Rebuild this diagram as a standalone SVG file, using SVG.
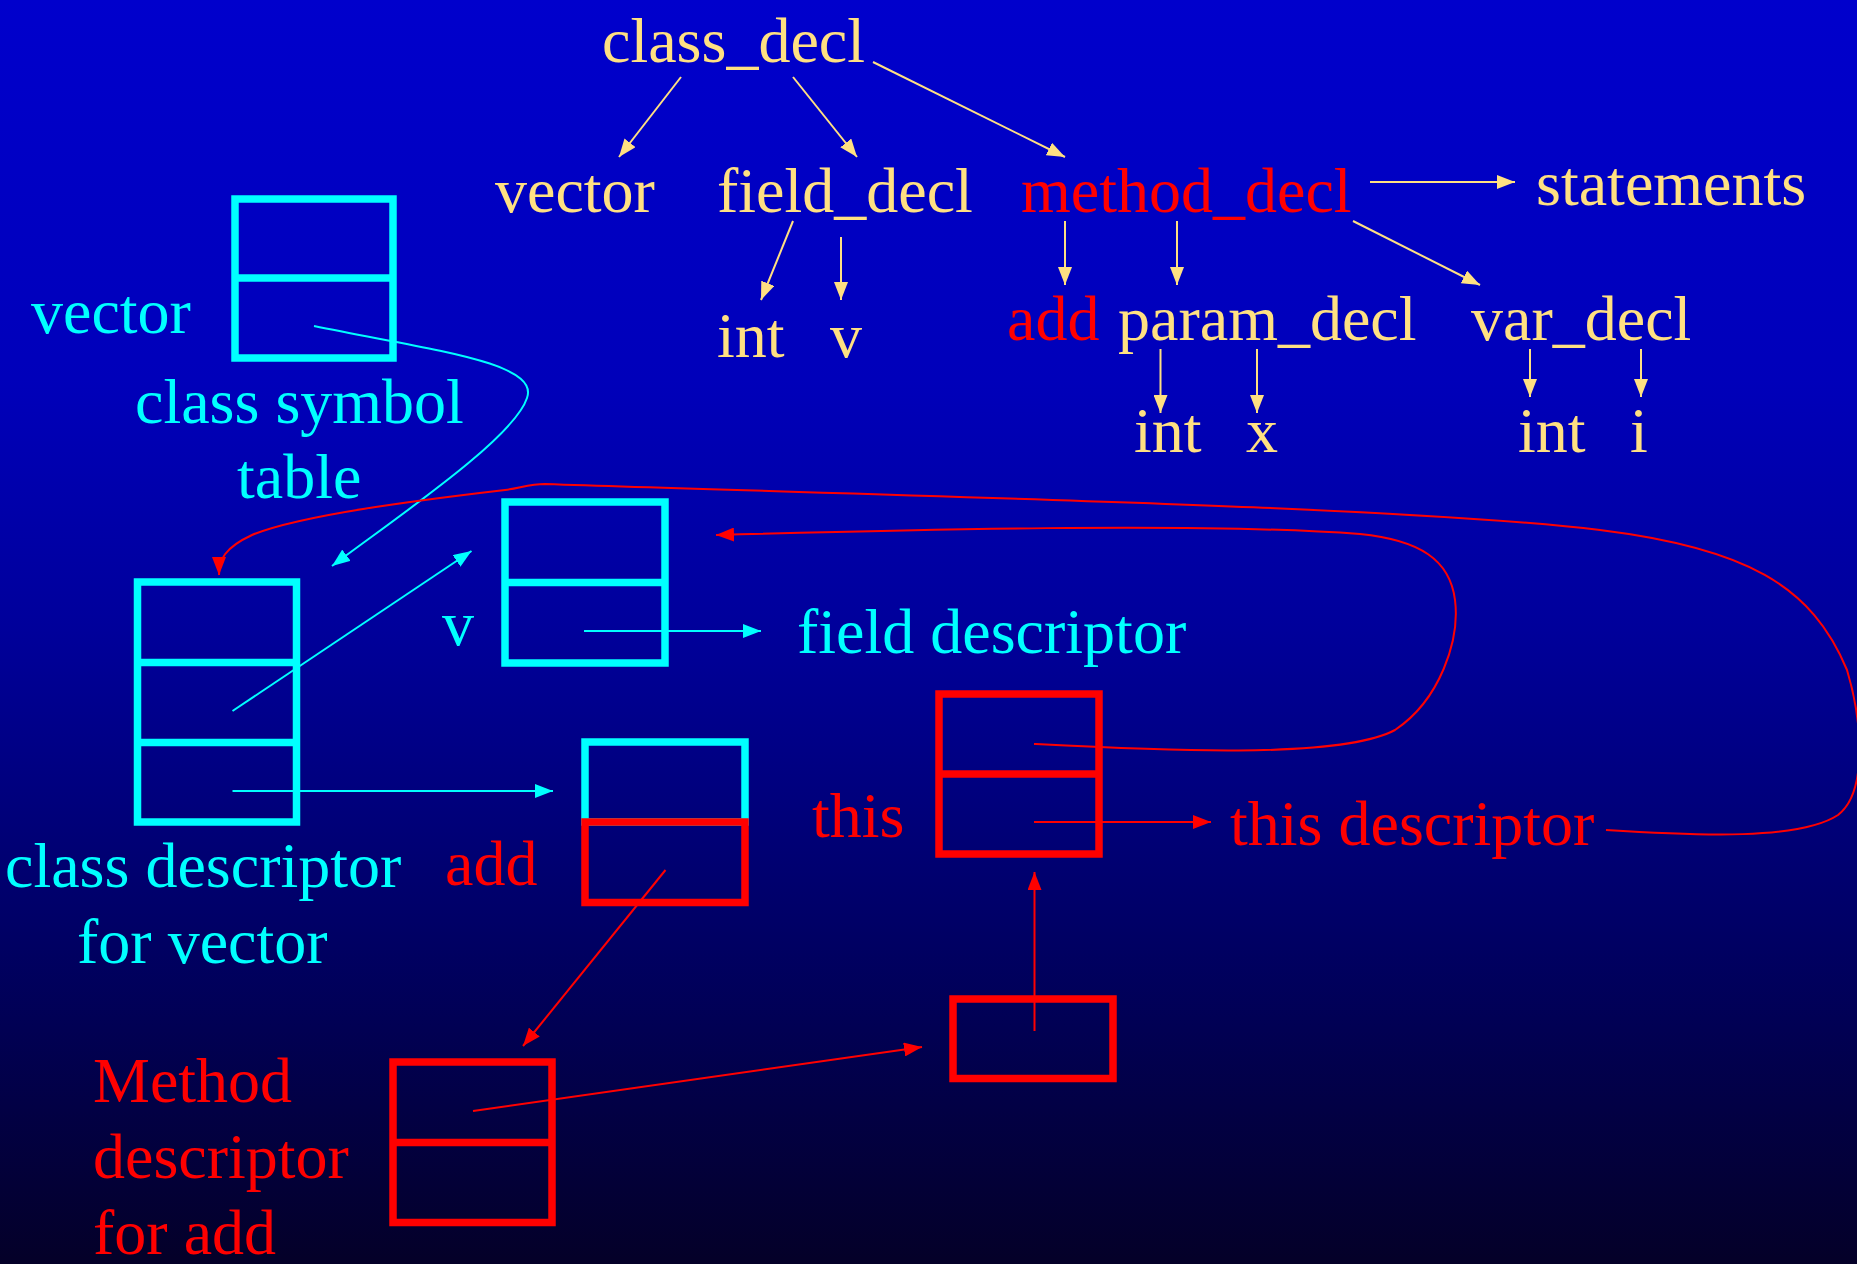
<svg xmlns="http://www.w3.org/2000/svg" width="1857" height="1264" viewBox="0 0 1857 1264">
  <defs>
    <linearGradient id="bg" x1="0" y1="0" x2="0" y2="1">
      <stop offset="0" stop-color="#0000CC"/>
      <stop offset="0.3" stop-color="#0000BA"/>
      <stop offset="0.5" stop-color="#00009A"/>
      <stop offset="0.75" stop-color="#000062"/>
      <stop offset="1" stop-color="#040028"/>
    </linearGradient>
    <marker id="ay" markerUnits="userSpaceOnUse" viewBox="0 0 18 14" refX="18" refY="7" markerWidth="18" markerHeight="14" orient="auto">
      <path d="M0,0 L18,7 L0,14 Z" fill="#FFE082"/>
    </marker>
    <marker id="ac" markerUnits="userSpaceOnUse" viewBox="0 0 18 14" refX="18" refY="7" markerWidth="18" markerHeight="14" orient="auto">
      <path d="M0,0 L18,7 L0,14 Z" fill="#00FFFF"/>
    </marker>
    <marker id="ar" markerUnits="userSpaceOnUse" viewBox="0 0 18 14" refX="18" refY="7" markerWidth="18" markerHeight="14" orient="auto">
      <path d="M0,0 L18,7 L0,14 Z" fill="#FF0000"/>
    </marker>
  </defs>
  <style>
    text { font-family: "Liberation Serif", "Times New Roman", serif; font-size: 64px; }
    .y { fill: #FFE082; }
    .c { fill: #00FFFF; }
    .r { fill: #FF0000; }
    .bc { fill: none; stroke: #00FFFF; stroke-width: 7.5; }
    .br { fill: none; stroke: #FF0000; stroke-width: 7.5; }
    .ly { fill: none; stroke: #FFE082; stroke-width: 2; marker-end: url(#ay); }
    .lc { fill: none; stroke: #00FFFF; stroke-width: 2; marker-end: url(#ac); }
    .lr { fill: none; stroke: #FF0000; stroke-width: 2; marker-end: url(#ar); }
  </style>
  <rect x="0" y="0" width="1857" height="1264" fill="url(#bg)"/>

  <g id="tree">
    <g id="n-class_decl"><text class="y" x="602" y="62">class_decl</text></g>
    <g id="n-vector"><text class="y" x="495" y="212">vector</text></g>
    <g id="n-field_decl"><text class="y" x="717" y="212">field_decl</text></g>
    <g id="n-method_decl"><text class="r" x="1021" y="212">method_decl</text></g>
    <g id="n-statements"><text class="y" x="1536" y="205">statements</text></g>
    <g id="n-field-int"><text class="y" x="717" y="357">int</text></g>
    <g id="n-field-v"><text class="y" x="830" y="357">v</text></g>
    <g id="n-add"><text class="r" x="1007" y="340">add</text></g>
    <g id="n-param_decl"><text class="y" x="1118" y="340">param_decl</text></g>
    <g id="n-var_decl"><text class="y" x="1471" y="340">var_decl</text></g>
    <g id="n-param-int"><text class="y" x="1134" y="452">int</text></g>
    <g id="n-param-x"><text class="y" x="1246" y="452">x</text></g>
    <g id="n-var-int"><text class="y" x="1518" y="452">int</text></g>
    <g id="n-var-i"><text class="y" x="1630" y="452">i</text></g>
  </g>

  <g id="class-symbol-table">
    <rect class="bc" x="235" y="199" width="158" height="159"/>
    <line class="bc" x1="235" y1="278" x2="393" y2="278"/>
    <text class="c" x="31" y="333">vector</text>
    <text class="c" x="135" y="423">class symbol</text>
    <text class="c" x="237" y="498">table</text>
  </g>

  <g id="class-descriptor">
    <rect class="bc" x="137.5" y="582" width="159" height="240"/>
    <line class="bc" x1="137.5" y1="662.5" x2="296.5" y2="662.5"/>
    <line class="bc" x1="137.5" y1="742.5" x2="296.5" y2="742.5"/>
    <text class="c" x="5" y="887">class descriptor</text>
    <text class="c" x="77" y="963">for vector</text>
  </g>

  <g id="field-table">
    <rect class="bc" x="505" y="502" width="160" height="161"/>
    <line class="bc" x1="505" y1="582.5" x2="665" y2="582.5"/>
    <text class="c" x="442" y="645">v</text>
  </g>

  <g id="field-descriptor"><text class="c" x="797" y="653">field descriptor</text></g>

  <g id="method-table">
    <rect class="bc" x="585" y="742" width="160" height="80"/>
    <rect class="br" x="585" y="822" width="160" height="80.5"/>
    <text class="r" x="445" y="885">add</text>
  </g>

  <g id="this-table">
    <rect class="br" x="939" y="694" width="160" height="160"/>
    <line class="br" x1="939" y1="774" x2="1099" y2="774"/>
    <text class="r" x="812" y="837">this</text>
  </g>

  <g id="this-descriptor"><text class="r" x="1230" y="845">this descriptor</text></g>

  <g id="method-descriptor">
    <rect class="br" x="393" y="1062" width="159" height="160.5"/>
    <line class="br" x1="393" y1="1142.5" x2="552" y2="1142.5"/>
    <text class="r" x="93" y="1102">Method</text>
    <text class="r" x="93" y="1178">descriptor</text>
    <text class="r" x="93" y="1254">for add</text>
  </g>

  <g id="param-table">
    <rect class="br" x="953" y="999" width="160" height="79.5"/>
  </g>

  <g id="connectors">
    <path class="ly" d="M681,77 L619,157"/>
    <path class="ly" d="M793,77 L857,157"/>
    <path class="ly" d="M873,62 L1065,157"/>
    <path class="ly" d="M793,221 L761,300"/>
    <path class="ly" d="M841,237 L841,300"/>
    <path class="ly" d="M1370,182 L1515,182"/>
    <path class="ly" d="M1065,221 L1065,285"/>
    <path class="ly" d="M1177,221 L1177,285"/>
    <path class="ly" d="M1353,221 L1480,285"/>
    <path class="ly" d="M1160.5,349 L1160.5,413"/>
    <path class="ly" d="M1257,349 L1257,413"/>
    <path class="ly" d="M1530,349 L1530,397"/>
    <path class="ly" d="M1641,349 L1641,397"/>

    <path class="lc" d="M314,326 C430,350 540,362 527,398 C514,438 400,515 332,566"/>
    <path class="lc" d="M232.5,711 L471.5,551"/>
    <path class="lc" d="M584,631 L761,631"/>
    <path class="lc" d="M232.5,791 L553,791"/>

    <path class="lr" d="M1606,830 C1700,836 1800,840 1838,815 C1868,792 1862,720 1847,670 C1812,585 1745,548 1600,530 C1400,506 900,496 545,484 C530,484 520,488 505,490 C420,500 300,515 252,535 C224,548 219,560 219,575"/>
    <path class="lr" d="M1034,744 C1150,750 1340,760 1395,730 C1440,700 1460,640 1455,600 C1450,560 1420,540 1360,534 C1200,522 900,530 716,535"/>
    <path class="lr" d="M665.5,870 L523,1046"/>
    <path class="lr" d="M473,1111 L922,1047"/>
    <path class="lr" d="M1034.5,1031 L1034.5,872"/>
    <path class="lr" d="M1034,822 L1211,822"/>
  </g>
</svg>
